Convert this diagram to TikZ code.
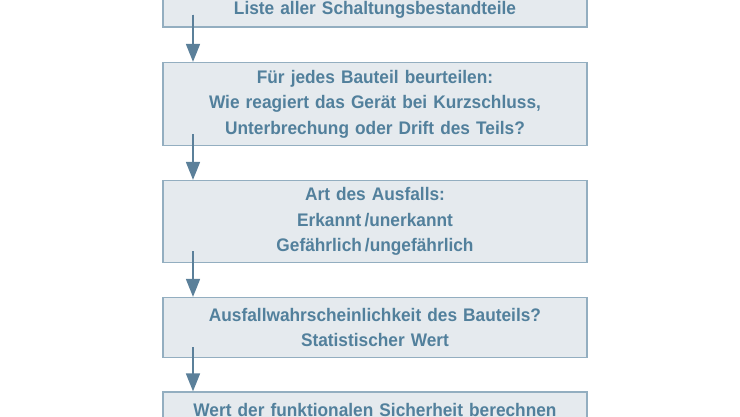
\documentclass[tikz,border=0pt]{standalone}
\usepackage{fontspec}
\setmainfont{Liberation Sans}[FakeStretch=0.95]
\usetikzlibrary{arrows.meta}
\definecolor{txtc}{HTML}{52809C}
\definecolor{boxfill}{HTML}{E5EAEE}
\definecolor{boxline}{HTML}{93AEC0}
\definecolor{arrc}{HTML}{5B809A}
\begin{document}
\begin{tikzpicture}[x=1pt,y=-1pt,
  stepbox/.style={draw=boxline, line width=1.2pt, fill=boxfill, text=txtc,
    minimum width=424pt, text width=416pt, align=center, inner sep=0pt,
    font=\bfseries\fontsize{18.2}{25.5}\selectfont},
  arr/.style={draw=arrc, line width=1.5pt, -{Triangle[width=14pt,length=18pt]}, fill=arrc}]
\useasboundingbox (0,0) rectangle (740,416);
\node[stepbox, minimum height=35pt] (b1) at (375,9.5) {Liste aller Schaltungsbestandteile};
\node[stepbox, minimum height=83pt] (b2) at (375,104) {Für jedes Bauteil beurteilen:\\Wie reagiert das Gerät bei Kurzschluss,\\Unterbrechung oder Drift des Teils?};
\node[stepbox, minimum height=82pt] (b3) at (375,221.5) {Art des Ausfalls:\\Erkannt\,/unerkannt\\Gefährlich\,/ungefährlich};
\node[stepbox, minimum height=60pt] (b4) at (375,327.5) {Ausfallwahrscheinlichkeit des Bauteils?\\Statistischer Wert};
\node[stepbox, minimum height=35pt] (b5) at (375,409.5) {Wert der funktionalen Sicherheit berechnen};
\coordinate (ax) at (193,0);
\draw[arr] ([yshift=13pt]b1.south -| ax) -- (b2.north -| ax);
\draw[arr] ([yshift=12pt]b2.south -| ax) -- (b3.north -| ax);
\draw[arr] ([yshift=12pt]b3.south -| ax) -- (b4.north -| ax);
\draw[arr] ([yshift=11pt]b4.south -| ax) -- (b5.north -| ax);
\end{tikzpicture}
\end{document}
